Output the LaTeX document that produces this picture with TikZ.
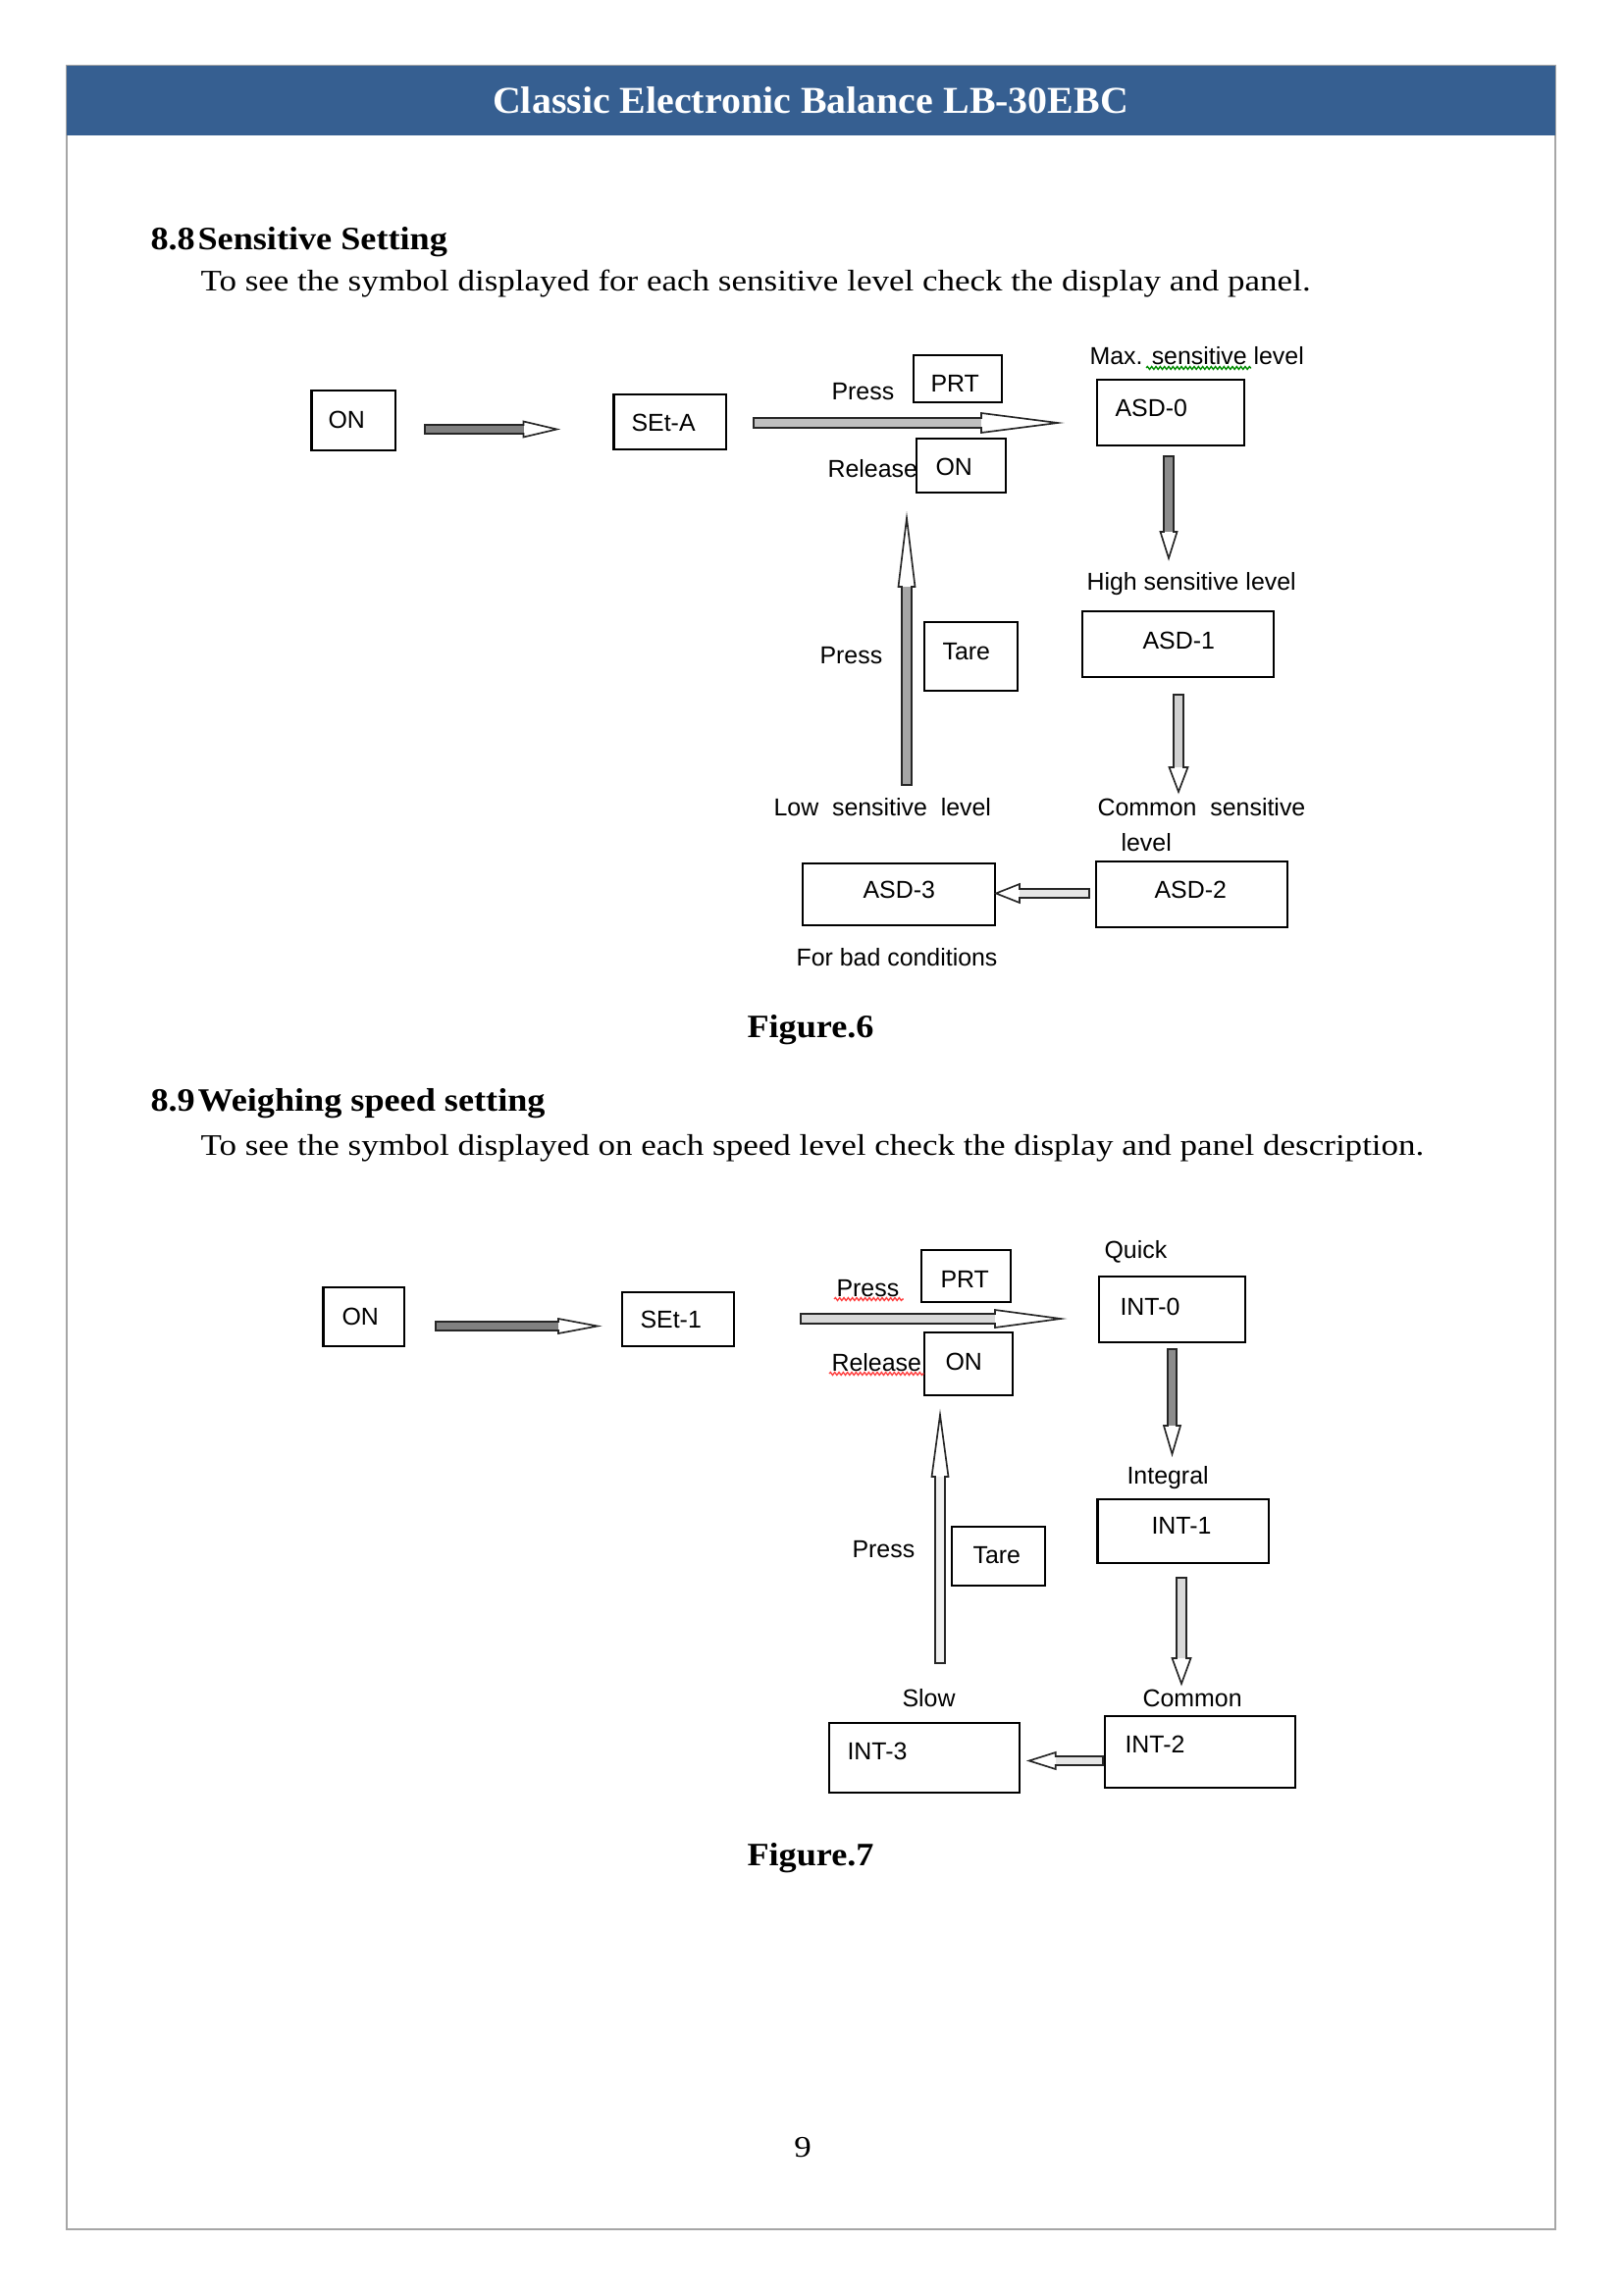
\documentclass[tikz,border=0pt]{standalone}
\usepackage{fontspec}
\setmainfont{Liberation Serif}
\newfontfamily\dgfont{Liberation Sans}
\newfontfamily\bodyfont[FakeStretch=1.15]{Liberation Serif}
\newfontfamily\headfont[FakeStretch=1.09]{Liberation Serif}
\newfontfamily\titlefont[FakeStretch=1.03]{Liberation Serif}
\usetikzlibrary{calc,decorations.pathmorphing}
\definecolor{barblue}{HTML}{365F91}
\definecolor{framegray}{HTML}{A6A6A6}
\tikzset{
  box/.style={draw=black, line width=0.9pt, rectangle, inner sep=0pt, fill=white},
  lbl/.style={inner sep=0pt, anchor=base west, font={\dgfont\fontsize{9pt}{10pt}\selectfont}},
  arr/.style={draw=black!85, line width=0.6pt, line join=miter},
  titletext/.style={inner sep=0pt, anchor=base, text=white, font={\titlefont\bfseries\fontsize{14pt}{16pt}\selectfont}},
  headtext/.style={inner sep=0pt, anchor=base west, font={\headfont\bfseries\fontsize{12pt}{14pt}\selectfont}},
  bodytext/.style={inner sep=0pt, anchor=base west, font={\bodyfont\fontsize{11pt}{13pt}\selectfont}},
  figcap/.style={inner sep=0pt, anchor=base, font={\headfont\bfseries\fontsize{12pt}{14pt}\selectfont}},
  pagenum/.style={inner sep=0pt, anchor=base, font={\bodyfont\fontsize{11pt}{13pt}\selectfont}},
  redwave/.style={draw=red!75, line width=0.5pt, decorate, decoration={snake, amplitude=0.18mm, segment length=0.55mm}},
  greenwave/.style={draw=green!55!black, line width=0.5pt, decorate, decoration={snake, amplitude=0.18mm, segment length=0.55mm}},
}
% box from (x1,y1) to (x2,y2) in pixel units
\newcommand\boxat[5]{\node[box, minimum width={(#4-#2)*0.127mm}, minimum height={(#5-#3)*0.127mm}] (#1) at ({(#2+#4)/2},{(#3+#5)/2}) {};}
% block arrow: tail, tip, head length, body half width, head half width, body fill
\newcommand\barrow[6]{%
  \coordinate (hb) at ($(#2)!#3*0.127mm!(#1)$);
  \coordinate (t1) at ($(#1)!#4*0.127mm!90:(#2)$);
  \coordinate (t2) at ($(#1)!#4*0.127mm!-90:(#2)$);
  \coordinate (h1) at ($(hb)!#4*0.127mm!90:(#2)$);
  \coordinate (h2) at ($(hb)!#4*0.127mm!-90:(#2)$);
  \coordinate (w1) at ($(hb)!#5*0.127mm!90:(#2)$);
  \coordinate (w2) at ($(hb)!#5*0.127mm!-90:(#2)$);
  \fill[white] (t1) -- (h1) -- (w1) -- (#2) -- (w2) -- (h2) -- (t2) -- cycle;
  \fill[#6] (t1) -- (h1) -- (h2) -- (t2) -- cycle;
  \draw[arr] (t1) -- (h1) -- (w1) -- (#2) -- (w2) -- (h2) -- (t2) -- cycle;
}
\begin{document}
\begin{tikzpicture}[x=0.127mm, y=-0.127mm]
\useasboundingbox (0,0) rectangle (1654,2339);
\fill[white] (0,0) rectangle (1654,2339);
% page frame and header
\draw[framegray, line width=0.5pt] (68,67) rectangle (1585,2272);
\fill[barblue] (68,67) rectangle (1585,138);
\node[titletext] (title) at (826,116) {Classic Electronic Balance LB-30EBC};

% section 8.8
\node[headtext] (h88) at (153,255) {8.8\hspace{1pt}Sensitive Setting};
\node[bodytext] (b88) at (204,297) {To see the symbol displayed for each sensitive level check the display and panel.};

% ---- Figure 6 boxes
\boxat{on1}{317.5}{398}{403}{459}
\boxat{seta}{625.6}{402}{739.8}{458}
\boxat{prt1}{931}{362}{1021}{410}
\boxat{on2}{934}{447}{1025}{502}
\boxat{asd0}{1118}{387}{1268}{454}
\boxat{asd1}{1103}{623}{1298}{690}
\boxat{asd2}{1117}{878}{1312}{945}
\boxat{asd3}{818}{880}{1014}{943}
\boxat{tare1}{942}{634}{1037}{704}

% ---- Figure 6 texts
\node[lbl] (on1t) at (334,437) {ON};
\node[lbl] (setat) at (643,440) {SEt-A};
\node[lbl] (press1) at (847,408) {Press};
\node[lbl] (prt1t) at (948,400) {PRT};
\node[lbl] (rel1) at (843,487) {Release};
\node[lbl] (on2t) at (953,485) {ON};
\node[lbl] (maxl) at (1110,372) {Max. sensitive level};
\node[lbl] (asd0t) at (1136,425) {ASD-0};
\node[lbl] (highl) at (1107,602) {High sensitive level};
\node[lbl] (asd1t) at (1164,662) {ASD-1};
\node[lbl] (press2) at (835,677) {Press};
\node[lbl] (tare1t) at (960,673) {Tare};
\node[lbl] (lowl) at (788,831) {Low\ \ sensitive\ \ level};
\node[lbl] (coml) at (1118,831) {Common\ \ sensitive};
\node[lbl] (coml2) at (1142,867) {level};
\node[lbl] (asd3t) at (879,915) {ASD-3};
\node[lbl] (asd2t) at (1176,915) {ASD-2};
\node[lbl] (badl) at (811,984) {For bad conditions};
\draw[greenwave] (1168,375) -- (1275,375);

% ---- Figure 6 arrows
\coordinate (a1s) at (433,437.5);   \coordinate (a1e) at (567.5,437.5);
\coordinate (a2s) at (768,431);     \coordinate (a2e) at (1078,431);
\coordinate (a3s) at (1191,465);    \coordinate (a3e) at (1191,569);
\coordinate (a4s) at (1201,708);    \coordinate (a4e) at (1201,807);
\coordinate (a5s) at (1110,910.5);  \coordinate (a5e) at (1015,910.5);
\coordinate (a6s) at (924,800);     \coordinate (a6e) at (924,528);
\barrow{a1s}{a1e}{34}{4.5}{8}{black!50}
\barrow{a2s}{a2e}{78}{5}{10}{black!25}
\barrow{a3s}{a3e}{27}{5}{8.5}{black!45}
\barrow{a4s}{a4e}{25}{5}{9.5}{black!18}
\barrow{a5s}{a5e}{24}{4.5}{9.5}{black!10}
\barrow{a6s}{a6e}{70}{5}{8.5}{black!35}

\node[figcap] (f6) at (826,1057) {Figure.6};

% section 8.9
\node[headtext] (h89) at (153,1132) {8.9\hspace{1pt}Weighing speed setting};
\node[bodytext] (b89) at (204,1177) {To see the symbol displayed on each speed level check the display and panel description.};

% ---- Figure 7 boxes
\boxat{on3}{329.5}{1312}{412}{1372}
\boxat{set1}{634}{1317}{748}{1372}
\boxat{prt2}{939}{1274}{1030}{1327}
\boxat{on4}{942}{1358}{1032}{1422}
\boxat{int0}{1120}{1301}{1269}{1368}
\boxat{int1}{1118.6}{1528}{1293}{1593}
\boxat{int2}{1126}{1749}{1320}{1822}
\boxat{int3}{845}{1756}{1039}{1827}
\boxat{tare2}{970}{1556}{1065}{1616}

% ---- Figure 7 texts
\node[lbl] (on3t) at (348,1350) {ON};
\node[lbl] (set1t) at (652,1353) {SEt-1};
\node[lbl] (press3) at (852,1321) {Press};
\node[lbl] (prt2t) at (958,1312) {PRT};
\node[lbl] (rel2) at (847,1397) {Release};
\node[lbl] (on4t) at (963,1396) {ON};
\node[lbl] (quick) at (1125,1282) {Quick};
\node[lbl] (int0t) at (1141,1340) {INT-0};
\node[lbl] (integ) at (1148,1512) {Integral};
\node[lbl] (int1t) at (1173,1563) {INT-1};
\node[lbl] (press4) at (868,1587) {Press};
\node[lbl] (tare2t) at (991,1593) {Tare};
\node[lbl] (slow) at (919,1739) {Slow};
\node[lbl] (common) at (1164,1739) {Common};
\node[lbl] (int2t) at (1146,1786) {INT-2};
\node[lbl] (int3t) at (863,1793) {INT-3};
\draw[redwave] ($(press3.base west)+(-2,3)$) -- ($(press3.base east)+(4,3)$);
\draw[redwave] ($(rel2.base west)+(-2,3)$) -- ($(rel2.base east)+(2,3)$);

% ---- Figure 7 arrows
\coordinate (b1s) at (444,1351.5);  \coordinate (b1e) at (609,1351.5);
\coordinate (b2s) at (816,1344);    \coordinate (b2e) at (1081,1344);
\coordinate (b3s) at (1194.5,1375); \coordinate (b3e) at (1194.5,1482);
\coordinate (b4s) at (1204,1608);   \coordinate (b4e) at (1204,1716);
\coordinate (b5s) at (1124,1794.5); \coordinate (b5e) at (1048.7,1794.5);
\coordinate (b6s) at (958,1695);    \coordinate (b6e) at (958,1442);
\barrow{b1s}{b1e}{40}{4.5}{7.5}{black!50}
\barrow{b2s}{b2e}{67}{5}{9}{black!15}
\barrow{b3s}{b3e}{29}{4.5}{8.5}{black!45}
\barrow{b4s}{b4e}{26}{5}{9.5}{black!15}
\barrow{b5s}{b5e}{27}{4.5}{8.5}{black!10}
\barrow{b6s}{b6e}{63}{5}{8.5}{black!6}

\node[figcap] (f7) at (826,1901) {Figure.7};
\node[pagenum] (pg) at (818,2198) {9};
\end{tikzpicture}
\end{document}
